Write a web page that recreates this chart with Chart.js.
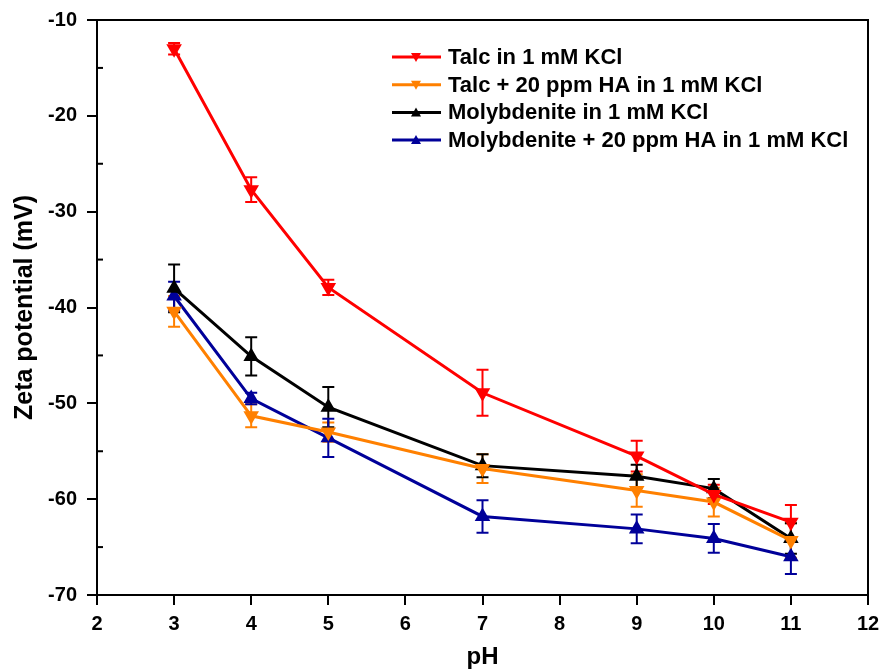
<!DOCTYPE html>
<html>
<head>
<meta charset="utf-8">
<script src="https://cdn.jsdelivr.net/npm/chart.js@4.4.1/dist/chart.umd.min.js"></script>
<style>
    html, body { margin: 0; padding: 0; background: #fff; }
    #wrap { width: 883px; height: 672px; }
</style>
</head>
<body>
<div id="wrap"><canvas id="zetaChart" width="883" height="672"></canvas></div>
<script>
"use strict";

// pH-värden (x)
const phValues = [3, 4, 5, 7, 9, 10, 11];

// Serier: namn, värden och felstaplar
const seriesNames = [
    "Talc in 1 mM KCl",
    "Talc + 20 ppm HA in 1 mM KCl",
    "Molybdenite in 1 mM KCl",
    "Molybdenite + 20 ppm HA in 1 mM KCl"
];
const talc = [-13.0, -27.7, -37.9, -48.9, -55.5, -59.5, -62.4];
const talcHA = [-40.4, -51.3, -53.0, -56.8, -59.1, -60.3, -64.3];
const moly = [-38.0, -45.1, -50.4, -56.5, -57.6, -58.9, -64.1];
const molyHA = [-38.8, -49.5, -53.6, -61.8, -63.1, -64.1, -66.0];

const talcErr = [0.6, 1.3, 0.8, 2.4, 1.6, 1.0, 1.8];
const talcHAErr = [1.6, 1.2, 1.0, 1.5, 1.7, 1.5, 1.8];
const molyErr = [2.5, 2.0, 2.1, 1.2, 1.2, 1.0, 1.6];
const molyHAErr = [1.5, 0.6, 2.0, 1.7, 1.5, 1.5, 1.8];

// Axlar
const xTicks = [2, 3, 4, 5, 6, 7, 8, 9, 10, 11, 12];
const yTicks = [-70, -60, -50, -40, -30, -20, -10];
const yMinorTicks = [-65, -55, -45, -35, -25, -15];

const colors = ["#ff0000", "#ff8000", "#000000", "#000099"];
const rotations = [180, 180, 0, 0];
const allValues = [talc, talcHA, moly, molyHA];
const allErrors = [talcErr, talcHAErr, molyErr, molyHAErr];

const fontFamily = "'Liberation Sans', Arial, sans-serif";
const tickFont = { family: fontFamily, size: 20, weight: "bold" };

// Felstaplar ritas via skalorna
const errorBars = {
    id: "errorBars",
    beforeDatasetsDraw(chart) {
        const ctx = chart.ctx;
        const xs = chart.scales.x;
        const ys = chart.scales.y;
        ctx.save();
        ctx.lineWidth = 2;
        allValues.forEach((vals, i) => {
            ctx.strokeStyle = colors[i];
            vals.forEach((v, j) => {
                const x = xs.getPixelForValue(phValues[j]);
                const y1 = ys.getPixelForValue(v + allErrors[i][j]);
                const y2 = ys.getPixelForValue(v - allErrors[i][j]);
                ctx.beginPath();
                ctx.moveTo(x, y1); ctx.lineTo(x, y2);
                ctx.moveTo(x - 6, y1); ctx.lineTo(x + 6, y1);
                ctx.moveTo(x - 6, y2); ctx.lineTo(x + 6, y2);
                ctx.stroke();
            });
        });
        ctx.restore();
    }
};

// Ram, små tickar och legend
const frameAndLegend = {
    id: "frameAndLegend",
    afterDraw(chart) {
        const ctx = chart.ctx;
        const a = chart.chartArea;
        const ys = chart.scales.y;
        ctx.save();
        ctx.strokeStyle = "#000";
        ctx.lineWidth = 2;
        ctx.strokeRect(a.left, a.top, a.right - a.left, a.bottom - a.top);

        // små tickar inåt
        yMinorTicks.forEach(t => {
            const y = ys.getPixelForValue(t);
            ctx.beginPath();
            ctx.moveTo(a.left, y);
            ctx.lineTo(a.left + 6, y);
            ctx.stroke();
        });

        // legend
        ctx.font = "bold 22px " + fontFamily;
        ctx.textBaseline = "middle";
        seriesNames.forEach((name, i) => {
            const y = 57 + i * 27.7;
            ctx.strokeStyle = colors[i];
            ctx.fillStyle = colors[i];
            ctx.lineWidth = 3;
            ctx.beginPath();
            ctx.moveTo(392, y); ctx.lineTo(441, y);
            ctx.stroke();
            ctx.beginPath();
            if (rotations[i] === 180) {
                ctx.moveTo(411, y - 4); ctx.lineTo(421, y - 4); ctx.lineTo(416, y + 5);
            } else {
                ctx.moveTo(411, y + 4); ctx.lineTo(421, y + 4); ctx.lineTo(416, y - 5);
            }
            ctx.closePath();
            ctx.fill();
            ctx.fillStyle = "#000";
            ctx.fillText(name, 448, y + 1);
        });
        ctx.restore();
    }
};

new Chart(document.getElementById("zetaChart"), {
    type: "line",
    data: {
        datasets: allValues.map((vals, i) => ({
            label: seriesNames[i],
            data: vals.map((v, j) => ({ x: phValues[j], y: v })),
            borderColor: colors[i],
            backgroundColor: colors[i],
            borderWidth: 3,
            pointStyle: "triangle",
            pointRotation: rotations[i],
            pointRadius: 6,
            pointHoverRadius: 6,
            tension: 0
        }))
    },
    options: {
        responsive: false,
        animation: false,
        layout: { padding: { top: 20, right: 15, left: 0, bottom: 0 } },
        plugins: {
            legend: { display: false },
            tooltip: { enabled: false }
        },
        scales: {
            x: {
                type: "linear",
                min: 2,
                max: 12,
                afterBuildTicks: scale => { scale.ticks = xTicks.map(v => ({ value: v })); },
                afterFit: scale => {
                    scale.height = 77;
                    scale.paddingLeft = 0;
                    scale.paddingRight = 0;
                },
                border: { color: "#000", width: 2 },
                grid: { drawOnChartArea: false, color: "#000", lineWidth: 2, tickLength: 10 },
                ticks: { color: "#000", font: tickFont, padding: 7, maxRotation: 0 },
                title: {
                    display: true,
                    text: "pH",
                    color: "#000",
                    font: { family: fontFamily, size: 24, weight: "bold" },
                    padding: { top: 0, bottom: 0 }
                }
            },
            y: {
                type: "linear",
                min: -70,
                max: -10,
                afterBuildTicks: scale => { scale.ticks = yTicks.map(v => ({ value: v })); },
                afterFit: scale => {
                    scale.width = 97;
                    scale.paddingTop = 0;
                    scale.paddingBottom = 0;
                },
                border: { color: "#000", width: 2 },
                grid: { drawOnChartArea: false, color: "#000", lineWidth: 2, tickLength: 10 },
                ticks: { color: "#000", font: tickFont, padding: 10 },
                title: {
                    display: true,
                    text: "Zeta potential (mV)",
                    color: "#000",
                    font: { family: fontFamily, size: 25, weight: "bold" },
                    padding: { top: 10, bottom: 0 }
                }
            }
        }
    },
    plugins: [errorBars, frameAndLegend]
});
</script>
</body>
</html>
